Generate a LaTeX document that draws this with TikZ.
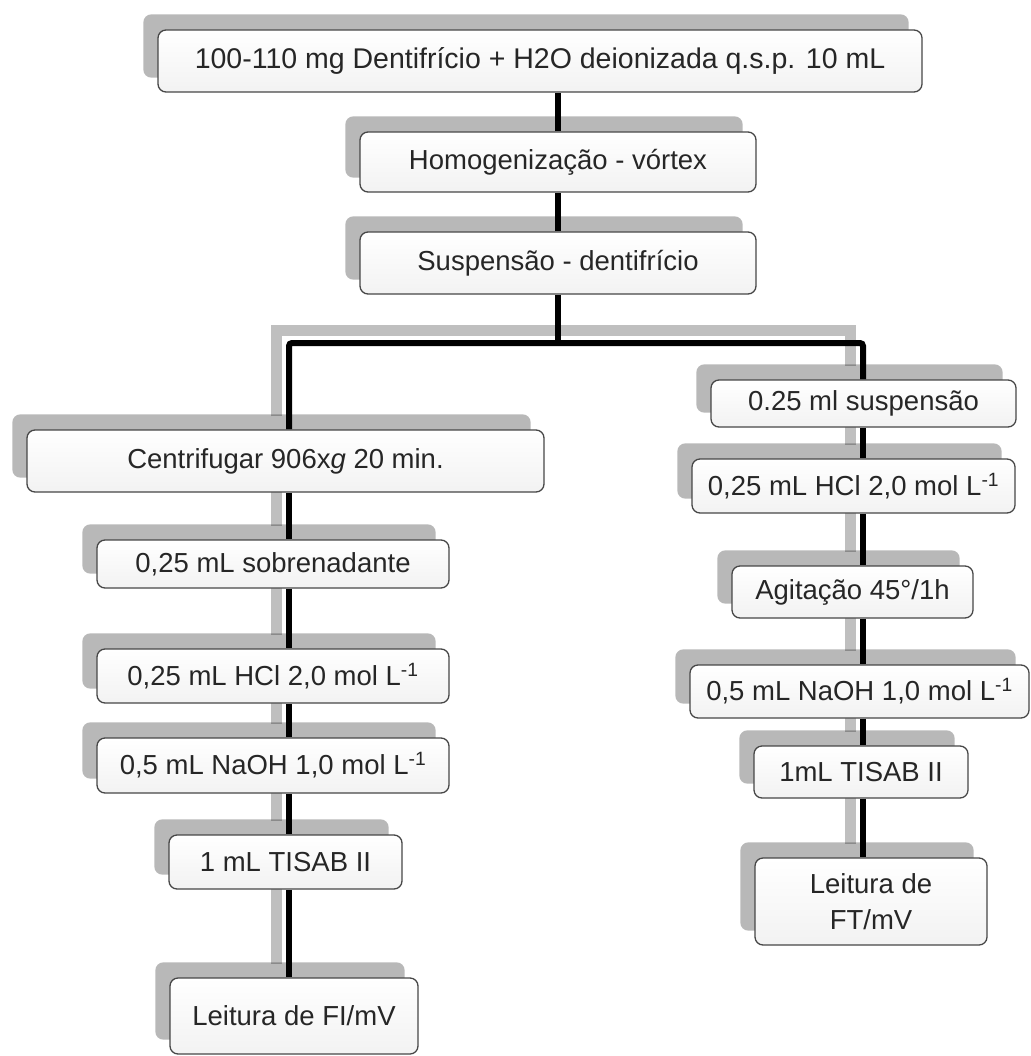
\documentclass[tikz,border=0pt]{standalone}
\usepackage{fontspec}
\setmainfont{Liberation Sans}
\usetikzlibrary{calc}
\pgfdeclarelayer{bg}
\pgfdeclarelayer{lines}
\pgfsetlayers{bg,lines,main}
\tikzset{
  stepbox/.style={draw=black!72, line width=1.3pt, rounded corners=8pt,
    top color=white, bottom color=black!5, inner sep=0pt, align=center,
    text=black!85, font=\fontsize{27.5}{36}\selectfont},
  shd/.style={fill=black, opacity=0.28, rounded corners=8pt},
  conn/.style={draw=black, line width=6pt, rounded corners=3pt},
  gconn/.style={draw=black, draw opacity=0.25, line width=11pt}
}
\begin{document}
\begin{tikzpicture}[x=1pt,y=-1pt]
\useasboundingbox (0,0) rectangle (1030,1056);
% boxes
\node[stepbox, minimum width=764, minimum height=62, font=\fontsize{28.5}{36}\selectfont] (B1) at (540,61) {100-110 mg Dentifrício + H2O deionizada q.s.p. 10 mL};
\node[stepbox, minimum width=396, minimum height=60] (B2) at (558,162) {Homogenização - vórtex};
\node[stepbox, minimum width=396, minimum height=62] (B3) at (558,263) {Suspensão - dentifrício};
\node[stepbox, minimum width=517, minimum height=62] (B4) at (285.5,461) {Centrifugar 906x\textit{g} 20 min.};
\node[stepbox, minimum width=352, minimum height=48] (B5) at (273,564) {0,25 mL sobrenadante};
\node[stepbox, minimum width=352, minimum height=54] (B6) at (273,676) {0,25 mL HCl 2,0 mol L\textsuperscript{-1}};
\node[stepbox, minimum width=352, minimum height=55] (B7) at (273,765.5) {0,5 mL NaOH 1,0 mol L\textsuperscript{-1}};
\node[stepbox, minimum width=233, minimum height=54] (B8) at (285.5,862) {1 mL TISAB II};
\node[stepbox, minimum width=248, minimum height=76] (B9) at (294,1016) {Leitura de FI/mV};
\node[stepbox, minimum width=305, minimum height=47] (R1) at (863.5,403.5) {0.25 ml suspensão};
\node[stepbox, minimum width=323, minimum height=54] (R2) at (853.5,486) {0,25 mL HCl 2,0 mol L\textsuperscript{-1}};
\node[stepbox, minimum width=241, minimum height=52] (R3) at (852.5,592) {Agitação 45°/1h};
\node[stepbox, minimum width=339, minimum height=53] (R4) at (859.5,691.5) {0,5 mL NaOH 1,0 mol L\textsuperscript{-1}};
\node[stepbox, minimum width=214, minimum height=52] (R5) at (861,772) {1mL TISAB II};
\node[stepbox, minimum width=232, minimum height=87] (R6) at (871,901.5) {Leitura de\\FT/mV};
\coordinate (split) at (558,343);
\coordinate (lcol) at (289,0);
\coordinate (rcol) at (863,0);
% shadows
\begin{pgfonlayer}{bg}
\foreach \n in {B1,B2,B3,B4,B5,B6,B7,B8,B9,R1,R2,R3,R4,R5,R6}{
  \path[shd] ($(\n.south west)+(-14,-15)$) rectangle ($(\n.north east)+(-14,-15)$);
}
\end{pgfonlayer}
% connectors
\begin{pgfonlayer}{lines}
% gray shadow lines
\draw[gconn] ($(B4.north -| lcol)+(-13,-13)$) -- ($(split -| lcol)+(-13,-13)$)
   -- ($(split -| rcol)+(-13,-13)$) -- ($(R1.north -| rcol)+(-13,-13)$);
\foreach \a/\b in {B4/B5,B5/B6,B6/B7,B7/B8,B8/B9}{
  \draw[gconn] ($(\a.south -| lcol)+(-13,-13)$) -- ($(\b.north -| lcol)+(-13,-13)$);
}
\foreach \a/\b in {R1/R2,R2/R3,R3/R4,R4/R5,R5/R6}{
  \draw[gconn] ($(\a.south -| rcol)+(-13,-13)$) -- ($(\b.north -| rcol)+(-13,-13)$);
}
% black lines
\draw[conn] (B2.north) -- (B2.north |- B1.south);
\draw[conn] (B3.north) -- (B3.north |- B2.south);
\draw[conn] (B3.south) -- (split);
\draw[conn] (B4.north -| lcol) -- (split -| lcol) -- (split -| rcol) -- (R1.north -| rcol);
\foreach \a/\b in {B4/B5,B5/B6,B6/B7,B7/B8,B8/B9}{
  \draw[conn] (\a.south -| lcol) -- (\b.north -| lcol);
}
\foreach \a/\b in {R1/R2,R2/R3,R3/R4,R4/R5,R5/R6}{
  \draw[conn] (\a.south -| rcol) -- (\b.north -| rcol);
}
\end{pgfonlayer}
\end{tikzpicture}
\end{document}
